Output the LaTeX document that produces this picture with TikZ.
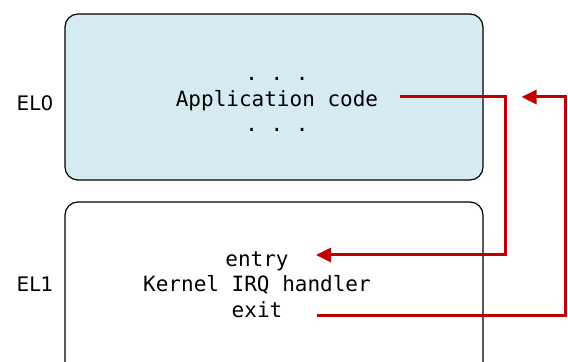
\documentclass[tikz,border=0pt]{standalone}
\usepackage{fontspec}
\setmainfont{DejaVu Sans}
\setmonofont{DejaVu Sans Mono}
\usepackage{tikz}
\usetikzlibrary{calc, arrows.meta}
\definecolor{elfill}{HTML}{D5EBF1}
\definecolor{irqred}{HTML}{C00000}

\begin{document}
\begin{tikzpicture}[x=0.5pt, y=-0.5pt,
    level/.style={draw=black, line width=0.6pt, rounded corners=6.5pt},
    code/.style={inner sep=0pt, anchor=base, font=\ttfamily\fontsize{10.5}{12}\selectfont},
    ellabel/.style={inner sep=0pt, anchor=base, font=\fontsize{10}{12}\selectfont},
    irq/.style={draw=irqred, line width=1.5pt},
    irqtip/.style={-{Triangle[length=7.5pt, width=7pt]}}]
        % Page frame
        \useasboundingbox (0,0) rectangle (568,362);
        \clip (0,0) rectangle (568,362);

        % Exception levels
        \draw[level, fill=elfill] (65,14) rectangle (483,180);
        \draw[level] (65,202) rectangle (483,390);
        \node[ellabel] (el0) at (35,111) {EL0};
        \node[ellabel] (el1) at (35,292) {EL1};

        % Application code
        \node[code] (dotsa) at (277,81) {. . .};
        \node[code] (app) at (277,107) {Application code};
        \node[code] (dotsb) at (277,132) {. . .};

        % Kernel handler
        \node[code] (entry) at (257,267) {entry};
        \node[code] (handler) at (257,292) {Kernel IRQ handler};
        \node[code] (exit) at (257,318) {exit};

        % Arrow ends
        \coordinate (app out) at ($(app.base east)+(21,-10)$);
        \coordinate (entry in) at ($(entry.base east)+(27,-12)$);
        \coordinate (exit out) at ($(exit.base east)+(34,-2)$);
        \coordinate (app back) at ($(app.base east)+(143,-10)$);

        % IRQ taken
        \draw[irq, irqtip] (app out) -- ++(106,0) |- (entry in);

        % Return from exception
        \draw[irq, irqtip] (exit out) -- ++(249,0) |- (app back);
    \end{tikzpicture}
\end{document}
